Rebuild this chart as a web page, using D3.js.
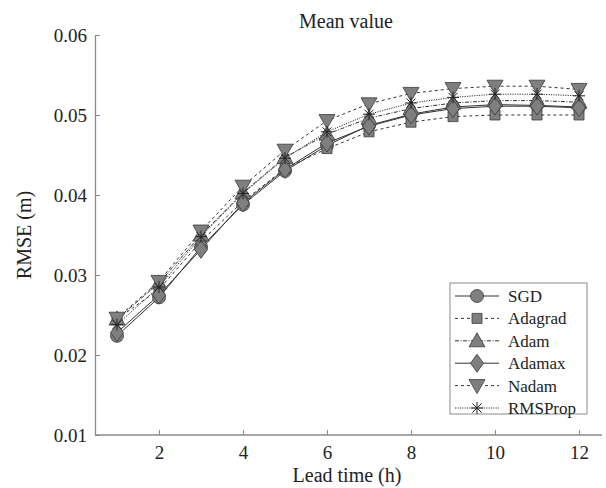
<!DOCTYPE html>
<html>
<head>
<meta charset="utf-8">
<script src="https://cdn.jsdelivr.net/npm/d3@7"></script>
<style>
  body { margin: 0; background: #fff; }
  text { font-family: "Liberation Serif", "Times New Roman", serif; fill: #222; }
</style>
</head>
<body>
<svg width="606" height="488"></svg>
<script>
var leadTimes = [1, 2, 3, 4, 5, 6, 7, 8, 9, 10, 11, 12];
var xTicks = [2, 4, 6, 8, 10, 12];
var yTicks = [0.01, 0.02, 0.03, 0.04, 0.05, 0.06];

var sgd     = [0.0224, 0.0272, 0.0335, 0.0388, 0.0430, 0.0462, 0.0487, 0.0501, 0.0510, 0.0513, 0.0512, 0.0510];
var adagrad = [0.0245, 0.0282, 0.0342, 0.0392, 0.0433, 0.0458, 0.0479, 0.0491, 0.0498, 0.0500, 0.0500, 0.0500];
var adam    = [0.0245, 0.0290, 0.0350, 0.0403, 0.0447, 0.0476, 0.0496, 0.0508, 0.0515, 0.0518, 0.0518, 0.0516];
var adamax  = [0.0228, 0.0275, 0.0332, 0.0390, 0.0432, 0.0465, 0.0486, 0.0500, 0.0508, 0.0511, 0.0511, 0.0509];
var nadam   = [0.0246, 0.0292, 0.0355, 0.0411, 0.0456, 0.0493, 0.0514, 0.0527, 0.0533, 0.0536, 0.0536, 0.0532];
var rmsprop = [0.0238, 0.0285, 0.0348, 0.0402, 0.0446, 0.0479, 0.0501, 0.0515, 0.0522, 0.0526, 0.0526, 0.0524];

var seriesNames = ['SGD', 'Adagrad', 'Adam', 'Adamax', 'Nadam', 'RMSProp'];
var seriesValues = [sgd, adagrad, adam, adamax, nadam, rmsprop];
var dashes = [null, '3,3', '4,1.5,1,1.5', null, '3,3', '1.2,1.2'];
var markers = ['circle', 'square', 'up', 'diamond', 'down', 'star'];

var svg = d3.select('svg');
var axisColor = '#8a8a8a';
var lineColor = '#333';
var markFill = '#7f7f7f';
var markStroke = '#3a3a3a';

var x = d3.scaleLinear().domain([0.5, 12.5]).range([96, 600]);
var y = d3.scaleLinear().domain([0.01, 0.06]).range([435, 35]);

// marker shapes, centered at 0,0
function markerPath(kind) {
  switch (kind) {
    case 'circle': return 'M6.5,0A6.5,6.5 0 1,1 -6.5,0A6.5,6.5 0 1,1 6.5,0Z';
    case 'square': return 'M-5,-5H5V5H-5Z';
    case 'up': return 'M0,-8L8,6H-8Z';
    case 'down': return 'M0,8L8,-6H-8Z';
    case 'diamond': return 'M0,-9L6.5,0L0,9L-6.5,0Z';
    case 'star': return 'M-6,0H6M0,-6V6M-4.5,-4.5L4.5,4.5M-4.5,4.5L4.5,-4.5';
  }
}

function drawMarker(g, kind, cx, cy) {
  var p = g.append('path')
    .attr('d', markerPath(kind))
    .attr('transform', 'translate(' + cx + ',' + cy + ')');
  if (kind === 'star') {
    p.attr('fill', 'none').attr('stroke', '#222').attr('stroke-width', 1);
  } else {
    p.attr('fill', markFill).attr('stroke', markStroke).attr('stroke-width', 0.8);
  }
}

// axes
var xAxis = svg.append('g').attr('transform', 'translate(0,435)')
  .call(d3.axisBottom(x).tickValues(xTicks).tickSize(-5).tickSizeOuter(0).tickPadding(11));
xAxis.select('.domain').attr('d', 'M95,0H602');
var yAxis = svg.append('g').attr('transform', 'translate(95,0)')
  .call(d3.axisLeft(y).tickValues(yTicks).tickSize(-5).tickSizeOuter(0).tickPadding(8)
    .tickFormat(d3.format('.2f')));

svg.selectAll('.domain').attr('stroke', axisColor).attr('stroke-width', 1.3);
svg.selectAll('.tick line').attr('stroke', axisColor);
svg.selectAll('.tick text')
  .attr('font-family', '"Liberation Serif", serif')
  .attr('font-size', 19).attr('fill', '#222');

// axis titles
svg.append('text').attr('x', 347).attr('y', 482).attr('text-anchor', 'middle')
  .attr('font-size', 20).text('Lead time (h)');
svg.append('text').attr('transform', 'translate(31,235) rotate(-90)').attr('text-anchor', 'middle')
  .attr('font-size', 20).text('RMSE (m)');
svg.append('text').attr('x', 346).attr('y', 28).attr('text-anchor', 'middle')
  .attr('font-size', 20).text('Mean value');

// lines
var line = d3.line().x(function(d, i) { return x(leadTimes[i]); }).y(function(d) { return y(d); });
seriesValues.forEach(function(vals, k) {
  svg.append('path').datum(vals)
    .attr('d', line)
    .attr('fill', 'none')
    .attr('stroke', lineColor)
    .attr('stroke-width', 1)
    .attr('stroke-dasharray', dashes[k]);
});

// markers
seriesValues.forEach(function(vals, k) {
  var g = svg.append('g');
  vals.forEach(function(v, i) {
    drawMarker(g, markers[k], x(leadTimes[i]), y(v));
  });
});

// legend
var lg = svg.append('g');
lg.append('rect').attr('x', 450).attr('y', 283).attr('width', 137).attr('height', 131)
  .attr('fill', '#fff').attr('stroke', axisColor).attr('stroke-width', 1);
seriesNames.forEach(function(name, k) {
  var ly = 296 + k * 22.4;
  lg.append('line').attr('x1', 455).attr('x2', 499).attr('y1', ly).attr('y2', ly)
    .attr('stroke', lineColor).attr('stroke-width', 1).attr('stroke-dasharray', dashes[k]);
  drawMarker(lg, markers[k], 477, ly);
  lg.append('text').attr('x', 508).attr('y', ly + 6).attr('font-size', 17).text(name);
});
</script>
</body>
</html>
